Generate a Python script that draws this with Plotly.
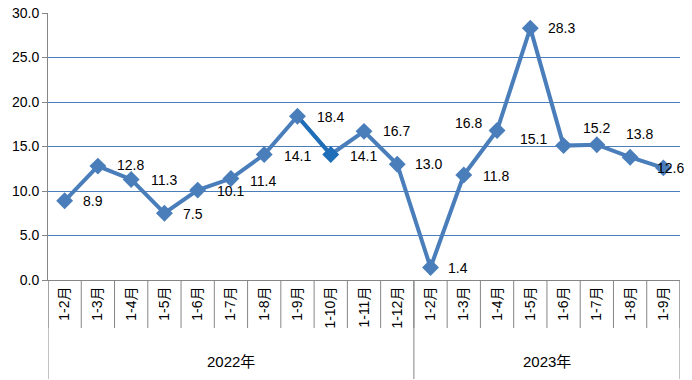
import plotly.graph_objects as go

months = ["1-2月", "1-3月", "1-4月", "1-5月", "1-6月", "1-7月", "1-8月", "1-9月", "1-10月", "1-11月", "1-12月",
          "1-2月", "1-3月", "1-4月", "1-5月", "1-6月", "1-7月", "1-8月", "1-9月"]
years = ["2022年", "2023年"]
year_counts = [11, 8]
values = [8.9, 12.8, 11.3, 7.5, 10.1, 11.4, 14.1, 18.4, 14.1, 16.7, 13.0,
          1.4, 11.8, 16.8, 28.3, 15.1, 15.2, 13.8, 12.6]

# label offsets in pixels (dx, dy) - styling only
label_offsets = [(28, 0), (33, 1), (33, -1), (29, -1), (33, -1), (32, -2), (33, -1), (33, -1),
                 (33, -1), (32, 0), (31, 0), (27, 0), (32, -1), (-29, 7), (31, 0), (-30, 7),
                 (0, 17), (9, 23), (7, 0)]

x = list(range(len(values)))
line_col = "#4a7ebb"
hl_col = "#1f6fb8"
font = "Liberation Sans, Noto Sans CJK SC, sans-serif"

fig = go.Figure()
fig.add_trace(go.Scatter(x=x, y=values, mode="lines", line=dict(color=line_col, width=4),
                         hoverinfo="skip", showlegend=False, cliponaxis=False))
fig.add_trace(go.Scatter(x=x[7:9], y=values[7:9], mode="lines", line=dict(color=hl_col, width=4),
                         hoverinfo="skip", showlegend=False, cliponaxis=False))
marker_colors = [line_col] * len(values)
marker_colors[8] = hl_col
fig.add_trace(go.Scatter(x=x, y=values, mode="markers", cliponaxis=False,
                         marker=dict(symbol="diamond", size=13, color=marker_colors, line=dict(width=0)),
                         showlegend=False))

for i, v in enumerate(values):
    dx, dy = label_offsets[i]
    fig.add_annotation(x=x[i], y=v, xref="x", yref="y", text=f"{v:.1f}", showarrow=False,
                       xshift=dx, yshift=dy, font=dict(family=font, size=14, color="#000000"))

# plot geometry: top 13, bottom 280 -> height 267
ph = 267.0
def py(pix):
    return (280 - pix) / ph

sep_col = "#868686"
n = len(values)
# month separators
for b in range(n + 1):
    xb = b - 0.5
    fig.add_shape(type="line", xref="x", yref="paper", x0=xb, x1=xb, y0=0, y1=py(328),
                  line=dict(color=sep_col, width=1))
# group separators
start = 0
bounds = [0]
for c in year_counts:
    start += c
    bounds.append(start)
for b in bounds:
    xb = b - 0.5
    fig.add_shape(type="line", xref="x", yref="paper", x0=xb, x1=xb, y0=0, y1=py(379),
                  line=dict(color=sep_col, width=1))
for j, yr in enumerate(years):
    cx = (bounds[j] + bounds[j + 1] - 1) / 2
    fig.add_annotation(x=cx, y=py(362), xref="x", yref="paper", text=yr, showarrow=False,
                       xanchor="center", yanchor="middle",
                       font=dict(family=font, size=15, color="#000000"))

fig.update_layout(
    width=692, height=380,
    margin=dict(l=48, r=12, t=13, b=100),
    paper_bgcolor="white", plot_bgcolor="white",
    font=dict(family=font, size=13, color="#000000"),
    xaxis=dict(range=[-0.5, n - 0.5], tickmode="array", tickvals=x, ticktext=months,
               tickangle=-90, showgrid=False, zeroline=False, showline=True, linecolor=sep_col,
               linewidth=1, ticks="", tickfont=dict(size=14, family=font), automargin=False,
               fixedrange=True),
    yaxis=dict(range=[0, 30], dtick=5, tickformat=".1f", showgrid=True, gridcolor=line_col,
               gridwidth=1, zeroline=False, showline=True, linecolor=sep_col, linewidth=1,
               ticks="outside", ticklen=5, tickcolor=sep_col, tickfont=dict(size=14, family=font),
               automargin=False),
)

fig.write_html("out.html", config={"displayModeBar": False},
               post_script="document.body.style.margin='0';document.body.style.overflow='hidden';")
